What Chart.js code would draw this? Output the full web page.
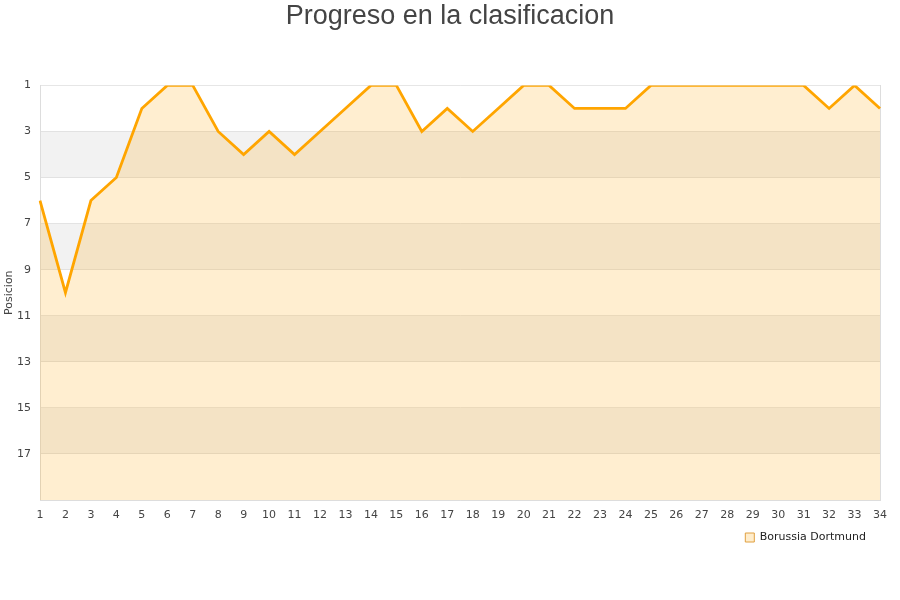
<!DOCTYPE html>
<html>
<head>
<meta charset="utf-8">
<script src="https://cdn.jsdelivr.net/npm/chart.js@4.4.0/dist/chart.umd.min.js"></script>
<style>
  html, body { margin: 0; padding: 0; background: #fff; }
  #wrap { width: 900px; height: 600px; }
</style>
</head>
<body>
<div id="wrap"><canvas id="posChart"></canvas></div>
<script>
// jornadas along the x-axis
var jornadas = [1,2,3,4,5,6,7,8,9,10,11,12,13,14,15,16,17,18,19,20,21,22,23,24,25,26,27,28,29,30,31,32,33,34];
// position in the table after each jornada
var dortmund = [6,10,6,5,2,1,1,3,4,3,4,3,2,1,1,3,2,3,2,1,1,2,2,2,1,1,1,1,1,1,1,2,1,2];

// grey bands behind the plot, every other step of 2
var bands = {
  id: 'bands',
  beforeDraw: function(chart) {
    var c = chart.ctx, y = chart.scales.y, a = chart.chartArea;
    c.save();
    c.fillStyle = '#f2f2f2';
    for (var v = 3; v < 19; v += 4) {
      var t = y.getPixelForValue(v), b = y.getPixelForValue(v + 2);
      c.fillRect(a.left, t, a.right - a.left, b - t);
    }
    c.restore();
  }
};

var ctx = document.getElementById("posChart");
var myChart = new Chart(ctx, {
  type: 'line',
  data: {
    labels: jornadas,
    datasets: [
      {
        data: dortmund,
        label: "Borussia Dortmund",
        borderColor: "#ffa500",
        backgroundColor: "rgba(255,170,20,0.2)",
        borderWidth: 2.8,
        pointRadius: 0,
        tension: 0,
        fill: 'start'
      }
    ]
  },
  plugins: [bands],
  options: {
    responsive: true,
    maintainAspectRatio: false,
    animation: false,
    layout: { padding: { left: 0, right: 0, top: 0, bottom: 47 } },
    plugins: {
      title: {
        display: true,
        text: 'Progreso en la clasificacion',
        color: '#444',
        font: { family: 'Liberation Sans', size: 27, weight: 'normal' },
        padding: { top: 0, bottom: 53 }
      },
      legend: {
        position: 'bottom',
        align: 'end',
        fullSize: false,
        labels: {
          boxWidth: 9,
          boxHeight: 9,
          padding: 14,
          color: '#222',
          font: { family: 'DejaVu Sans', size: 11 },
          generateLabels: function(chart) {
            var items = Chart.defaults.plugins.legend.labels.generateLabels(chart);
            items.forEach(function(it) {
              it.lineWidth = 1;
              it.strokeStyle = '#e0a040';
              it.fillStyle = '#ffedcc';
            });
            return items;
          }
        }
      },
      tooltip: { enabled: false }
    },
    scales: {
      x: {
        grid: { display: false },
        border: { color: '#ddd' },
        ticks: {
          color: '#444',
          font: { family: 'DejaVu Sans', size: 11 },
          maxRotation: 0,
          autoSkip: false,
          padding: 1
        },
        afterFit: function(s) { s.height = 18; }
      },
      y: {
        reverse: true,
        min: 1,
        max: 19,
        border: { color: '#ddd' },
        grid: { color: 'rgba(200,200,200,0.45)', drawTicks: false },
        ticks: {
          stepSize: 2,
          color: '#444',
          font: { family: 'DejaVu Sans', size: 11 },
          padding: 9,
          callback: function(v) { return v === 19 ? '' : v; }
        },
        title: {
          display: true,
          text: 'Posicion',
          color: '#444',
          font: { family: 'DejaVu Sans', size: 11 },
          padding: { top: 3, bottom: 0 }
        },
        afterFit: function(s) { s.width = 40; }
      },
      // empty right axis, only gives the right border and margin
      y2: {
        position: 'right',
        min: 0,
        max: 1,
        grid: { display: false },
        ticks: { display: false },
        border: { color: '#ddd' },
        afterFit: function(s) { s.width = 20; }
      }
    }
  }
});
</script>
</body>
</html>
